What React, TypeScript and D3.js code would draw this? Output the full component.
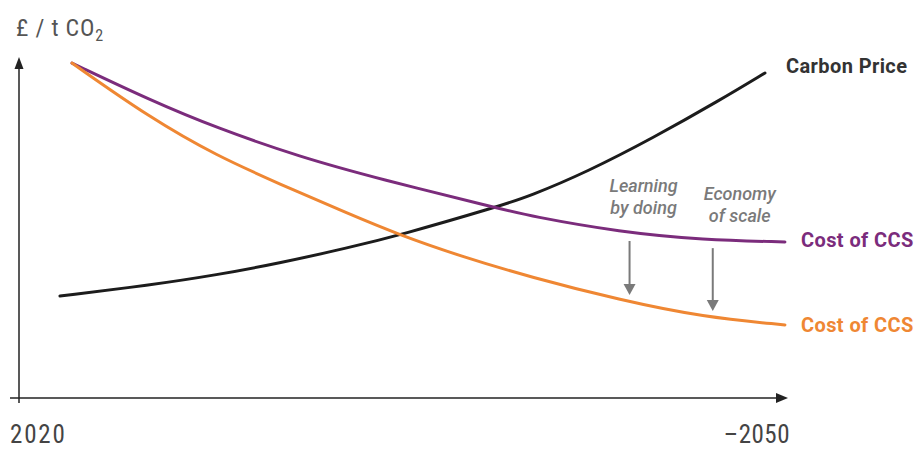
import React from "react";
import * as d3 from "d3";

const years = [2020, 2050];
const carbonYears = [2021.6, 2025.12, 2027.73, 2030.2, 2032.81, 2034.88, 2038.67, 2039.96, 2042.19, 2044.77, 2047.38, 2049.14];
const carbonValues = [30.0, 33.2, 36.2, 39.7, 44.1, 47.9, 56.2, 59.4, 66.5, 76.5, 87.6, 95.6];
const ccsHighYears = [2022.07, 2025.12, 2027.73, 2030.98, 2034.1, 2038.67, 2039.96, 2043.48, 2046.72, 2049.92];
const ccsHighValues = [98.5, 87.6, 79.4, 70.9, 64.4, 55.9, 53.5, 48.8, 46.5, 45.9];
const ccsLowYears = [2022.07, 2025.12, 2027.73, 2030.2, 2032.81, 2034.88, 2037.34, 2039.96, 2043.48, 2046.72, 2049.92];
const ccsLowValues = [98.5, 82.4, 71.2, 62.9, 54.4, 47.9, 41.5, 35.6, 28.8, 23.8, 21.5];
const seriesLabels = ["Carbon Price", "Cost of CCS", "Cost of CCS"];
const tickLabels = ["2020", "\u20132050"];
const annotations = [
  { lines: ["Learning", "by doing"], year: 2043.85 },
  { lines: ["Economy", "of scale"], year: 2047.1 },
];

const W = 920;
const H = 449;

export default function App() {
  const x = d3.scaleLinear().domain([years[0], years[1]]).range([19, 787]);
  const y = d3.scaleLinear().domain([0, 100]).range([398, 58]);
  const line = d3
    .line<[number, number]>()
    .x((d) => x(d[0]))
    .y((d) => y(d[1]))
    .curve(d3.curveBasis);
  const zip = (a: number[], b: number[]) => a.map((v, i) => [v, b[i]] as [number, number]);
  const carbon = zip(carbonYears, carbonValues);
  const high = zip(ccsHighYears, ccsHighValues);
  const low = zip(ccsLowYears, ccsLowValues);
  const interp = (pts: [number, number][], yr: number) => {
    for (let i = 0; i < pts.length - 1; i++) {
      if (yr >= pts[i][0] && yr <= pts[i + 1][0]) {
        const t = (yr - pts[i][0]) / (pts[i + 1][0] - pts[i][0]);
        return pts[i][1] + t * (pts[i + 1][1] - pts[i][1]);
      }
    }
    return pts[pts.length - 1][1];
  };
  const cond = "'Roboto Condensed', 'Liberation Sans Narrow', Roboto, sans-serif";
  const font = "Roboto, 'Open Sans', sans-serif";
  const colors = { carbon: "#1c1c1c", high: "#7b2c7c", low: "#ef8733", axis: "#222", gray: "#7a7a7a" };

  return (
    <svg width={W} height={H} style={{ position: "absolute", left: 0, top: 0, background: "#fff" }}>
      {/* axes */}
      <line x1={19} y1={403} x2={19} y2={66} stroke={colors.axis} strokeWidth={1.5} />
      <path d="M19,57 L14.5,69 L23.5,69 Z" fill={colors.axis} />
      <line x1={10} y1={y(0)} x2={778} y2={y(0)} stroke={colors.axis} strokeWidth={1.6} />
      <path d={`M788,${y(0)} L776,${y(0) - 5} L776,${y(0) + 5} Z`} fill={colors.axis} />

      <text x={16} y={36} fontFamily={cond} fontSize={24} fill="#555" letterSpacing={0.8}>
        £ / t CO<tspan fontSize={16} dy={5}>2</tspan>
      </text>

      <text x={10} y={443} fontFamily={cond} fontSize={25} fill="#444" letterSpacing={1.8}>{tickLabels[0]}</text>
      <text x={790} y={443} fontFamily={cond} fontSize={25} fill="#444" letterSpacing={0.5} textAnchor="end">{tickLabels[1]}</text>

      {/* curves */}
      <path d={line(carbon) || ""} fill="none" stroke={colors.carbon} strokeWidth={3} strokeLinecap="round" />
      <path d={line(high) || ""} fill="none" stroke={colors.high} strokeWidth={3} strokeLinecap="round" />
      <path d={line(low) || ""} fill="none" stroke={colors.low} strokeWidth={3} strokeLinecap="round" />

      {/* series labels */}
      <text x={786} y={73} fontFamily={font} fontSize={20} fontWeight="bold" fill="#333" letterSpacing={0.4}>{seriesLabels[0]}</text>
      <text x={801} y={247} fontFamily={font} fontSize={20} fontWeight="bold" fill={colors.high} letterSpacing={0.4}>{seriesLabels[1]}</text>
      <text x={801} y={332} fontFamily={font} fontSize={20} fontWeight="bold" fill={colors.low} letterSpacing={0.4}>{seriesLabels[2]}</text>

      {/* annotations */}
      {annotations.map((a, i) => {
        const ax = x(a.year);
        const top = y(interp(high, a.year)) + 8;
        const bottom = y(interp(low, a.year)) - 7;
        const tx = ax + (i === 0 ? 14 : 27);
        const ty = i === 0 ? 192 : 200;
        return (
          <g key={i}>
            <line x1={ax} y1={top} x2={ax} y2={bottom - 8} stroke={colors.gray} strokeWidth={2} />
            <path d={`M${ax},${bottom} L${ax - 6},${bottom - 11} L${ax + 6},${bottom - 11} Z`} fill={colors.gray} />
            {a.lines.map((l, j) => (
              <text key={j} x={tx} y={ty + j * 22} fontFamily={font} fontSize={18} fontStyle="italic" fontWeight={500} fill={colors.gray} textAnchor="middle">
                {l}
              </text>
            ))}
          </g>
        );
      })}
    </svg>
  );
}
